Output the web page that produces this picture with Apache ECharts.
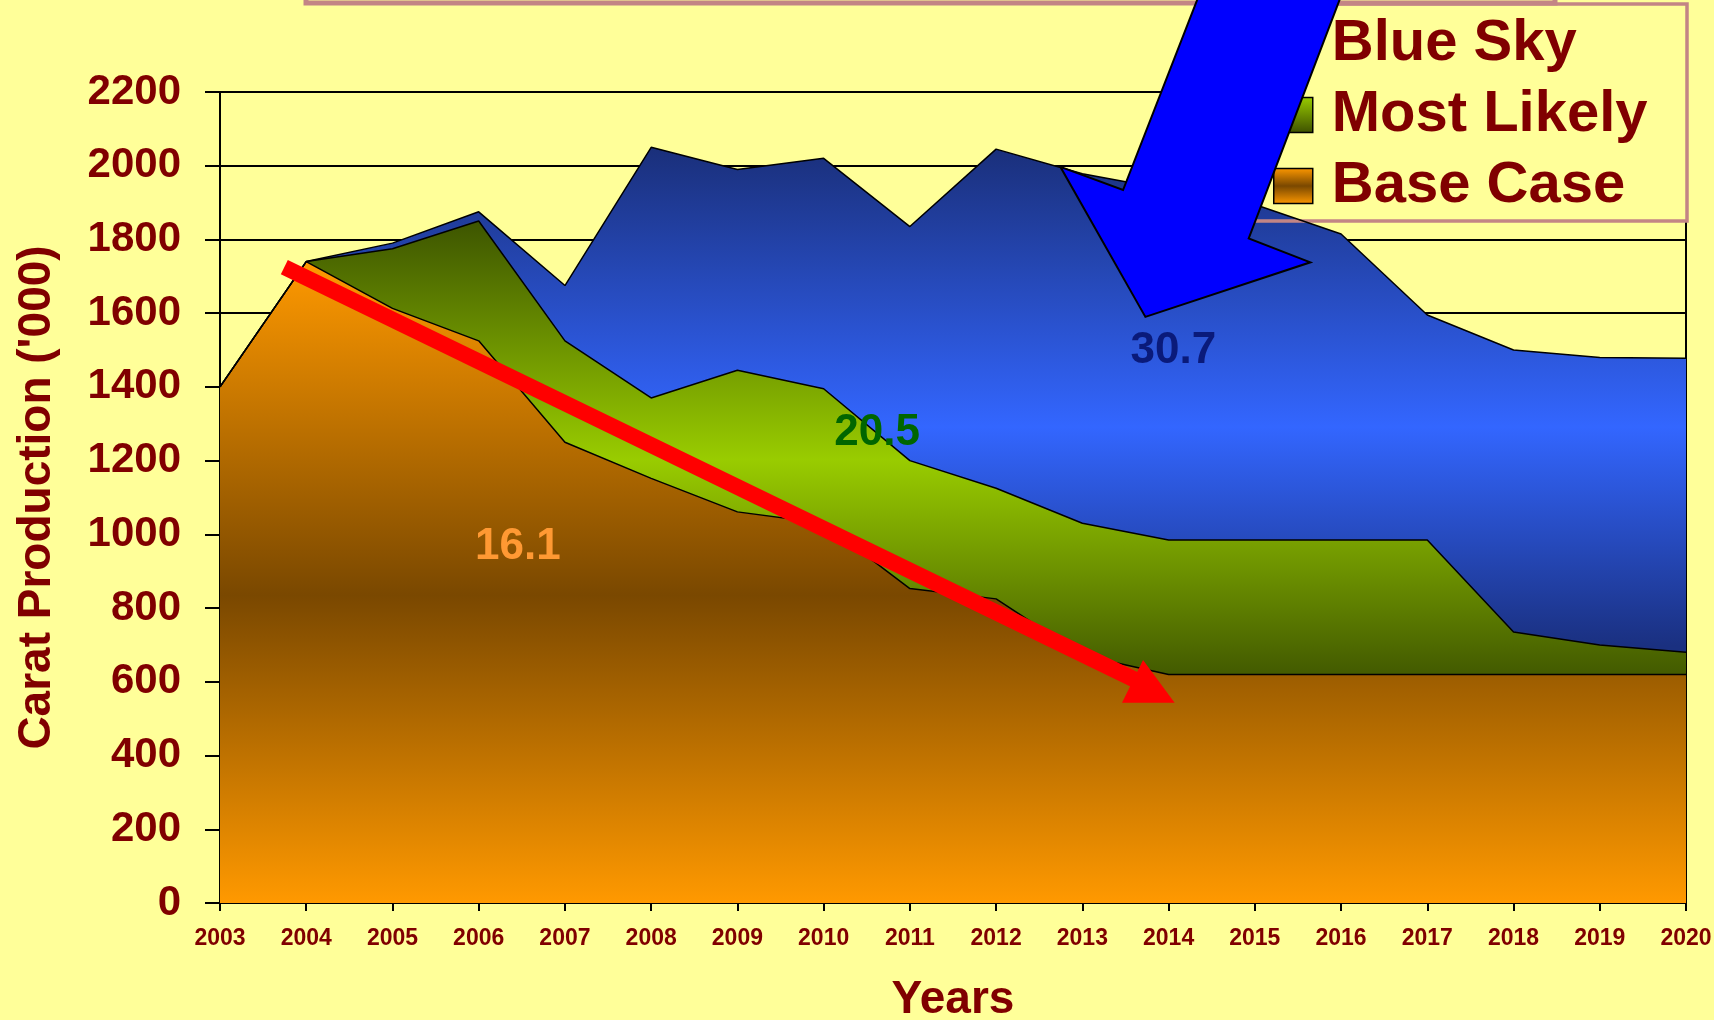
<!DOCTYPE html>
<html>
<head>
<meta charset="utf-8">
<script src="https://cdn.jsdelivr.net/npm/echarts@6/dist/echarts.min.js"></script>
<style>
html,body{margin:0;padding:0;background:#FFFF99;}
#c{width:1714px;height:1020px;}
</style>
</head>
<body>
<div id="c"></div>
<script>
// ---- data ----
const years = ['2003','2004','2005','2006','2007','2008','2009','2010','2011','2012','2013','2014','2015','2016','2017','2018','2019','2020'];
const blueSky    = [1400,1740,1790,1875,1675,2050,1990,2020,1835,2045,1978,1935,1895,1815,1595,1500,1480,1478];
const mostLikely = [1400,1740,1775,1850,1525,1370,1445,1395,1200,1125,1030,985,985,985,985,735,700,680];
const baseCase   = [1400,1740,1613,1525,1250,1152,1061,1030,853,825,672,620,620,620,620,620,620,620];
const seriesNames = ['Blue Sky','Most Likely','Base Case'];
const yMin = 0, yMax = 2200, yStep = 200;
const totals = ['16.1','20.5','30.7'];

const FONT = '"Liberation Sans", Arial, sans-serif';
const DARKRED = '#800000';

function vgrad(stops){
  return new echarts.graphic.LinearGradient(0,0,0,1, stops.map(s=>({offset:s[0],color:s[1]})));
}
const blueFill   = vgrad([[0,'#1A2F7A'],[0.37,'#3366FF'],[0.66,'#1A3080'],[1,'#1A3080']]);
const greenFill  = vgrad([[0,'#3D5500'],[0.35,'#99CC00'],[0.66,'#445C00'],[1,'#445C00']]);
const orangeFill = vgrad([[0,'#FF9900'],[0.52,'#7A4800'],[1,'#FF9900']]);
const blueIcon   = vgrad([[0,'#3366FF'],[1,'#1A3080']]);
const greenIcon  = vgrad([[0,'#99CC00'],[1,'#3D5000']]);
const orangeIcon = vgrad([[0,'#FF9900'],[0.5,'#7A4800'],[1,'#FF9900']]);

const chart = echarts.init(document.getElementById('c'), null, {renderer:'canvas'});

function areaSeries(name, data, fill){
  return {
    name, type:'line', data, symbol:'none', smooth:false,
    lineStyle:{color:'#000', width:1.5},
    itemStyle:{color:fill},
    areaStyle:{color:fill, opacity:1},
    emphasis:{disabled:true}
  };
}

chart.setOption({
  backgroundColor:'#FFFF99',
  animation:false,
  grid:{left:220, right:28, top:92, bottom:117, show:true, borderColor:'#000', borderWidth:2,
        backgroundColor:'transparent', containLabel:false, outerBoundsMode:'none'},
  legend:{
    orient:'vertical', left:1273, top:15, padding:0, itemGap:13,
    itemWidth:39, itemHeight:35, icon:'rect', z:4,
    itemStyle:{borderColor:'#000', borderWidth:1.5},
    textStyle:{color:DARKRED, fontSize:58, fontWeight:'bold', fontFamily:FONT, lineHeight:57, padding:[0,0,0,14]},
    data:[
      {name:seriesNames[0], itemStyle:{color:blueIcon}},
      {name:seriesNames[1], itemStyle:{color:greenIcon}},
      {name:seriesNames[2], itemStyle:{color:orangeIcon}}
    ]
  },
  xAxis:{
    type:'category', data:years, boundaryGap:false,
    axisLine:{lineStyle:{color:'#000', width:2}},
    axisTick:{show:true, length:8, lineStyle:{color:'#000', width:2}},
    axisLabel:{color:DARKRED, fontSize:23, fontWeight:'bold', fontFamily:FONT, margin:24, interval:0},
    splitLine:{show:false},
    name:'Years', nameLocation:'middle', nameGap:74,
    nameTextStyle:{color:DARKRED, fontSize:46, fontWeight:'bold', fontFamily:FONT}
  },
  yAxis:{
    type:'value', min:yMin, max:yMax, interval:yStep,
    axisLine:{show:true, lineStyle:{color:'#000', width:2}},
    axisTick:{show:true, length:15, lineStyle:{color:'#000', width:2}},
    axisLabel:{color:DARKRED, fontSize:42, fontWeight:'bold', fontFamily:FONT, margin:39, formatter:v=>String(v)},
    splitLine:{show:true, lineStyle:{color:'#000', width:2}},
    name:"Carat Production ('000)", nameLocation:'middle', nameGap:160, nameRotate:90,
    nameTextStyle:{color:DARKRED, fontSize:46, fontWeight:'bold', fontFamily:FONT}
  },
  series:[
    areaSeries(seriesNames[0], blueSky, blueFill),
    areaSeries(seriesNames[1], mostLikely, greenFill),
    areaSeries(seriesNames[2], baseCase, orangeFill)
  ]
});

// ---- annotations placed in data space (category index, value) ----
const n = years.length - 1;
const xa = chart.convertToPixel({xAxisIndex:0}, 0);
const xb = chart.convertToPixel({xAxisIndex:0}, n);
function px(idx, val){
  return [xa + (xb - xa) * idx / n, chart.convertToPixel({yAxisIndex:0}, val)];
}
const redStart = px(0.746, 1725), redEnd = px(10.615, 605);
const redHead = [px(10.704, 659), px(10.46, 543), px(11.07, 543)];
const blueArrow = [
  px(11.42, 2503), px(10.472, 1934), px(9.745, 1997), px(10.731, 1590),
  px(12.644, 1738), px(11.929, 1803), px(13.069, 2503)
];
const labelPos = [
  {t:totals[0], p:px(3.455, 965), c:'#FF9933'},
  {t:totals[1], p:px(7.62, 1276), c:'#006600'},
  {t:totals[2], p:px(11.056, 1498), c:'#0A1A7A'}
];

const graphics = [
  {type:'rect', z:5, shape:{x:306, y:-40, width:1249, height:43}, style:{fill:'none', stroke:'#C38585', lineWidth:5}},
  {type:'rect', z:1, shape:{x:1230, y:4, width:457, height:217}, style:{fill:'#FFFF99'}},
  {type:'rect', z:3, shape:{x:1230, y:4, width:457, height:217}, style:{fill:'none', stroke:'#C38585', lineWidth:3.5}},
  {type:'line', z:10, shape:{x1:redStart[0], y1:redStart[1], x2:redEnd[0], y2:redEnd[1]}, style:{stroke:'#FF0000', lineWidth:16, lineCap:'butt'}},
  {type:'polygon', z:10, shape:{points:redHead}, style:{fill:'#FF0000'}},
  {type:'polygon', z:20, shape:{points:blueArrow}, style:{fill:'#0000FF', stroke:'#000', lineWidth:2}}
];
labelPos.forEach(l=>{
  graphics.push({type:'text', z:10, x:l.p[0], y:l.p[1],
    style:{text:l.t, fill:l.c, fontSize:44, fontWeight:'bold', fontFamily:FONT, align:'center', verticalAlign:'middle'}});
});
chart.setOption({graphic:graphics});
</script>
</body>
</html>
